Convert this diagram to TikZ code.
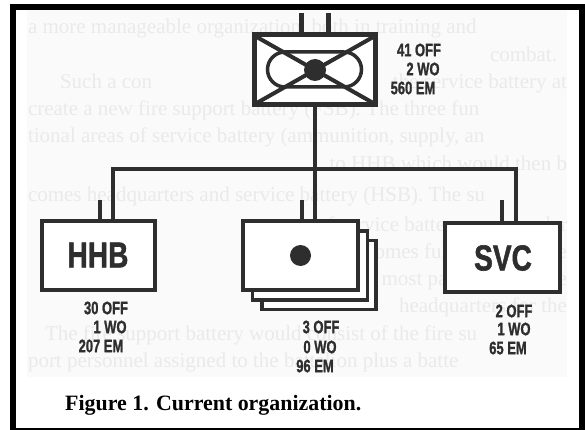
\documentclass[tikz,border=0pt]{standalone}
\usepackage{graphicx}
\usepackage{fontspec}
\setmainfont{Liberation Serif}
\newfontfamily\labelfont{Liberation Sans}[BoldFeatures={FakeBold=1.6}]
\definecolor{ink}{HTML}{2E2E2E}
\definecolor{ghost}{HTML}{EAEAEA}
\definecolor{paper}{HTML}{FAFAFA}
\newcommand{\unitname}[1]{\scalebox{0.78}[1]{\labelfont\fontsize{36}{36}\selectfont\bfseries #1}}
\newcommand{\tally}[1]{\scalebox{0.72}[1]{\labelfont\fontsize{18}{18}\selectfont\bfseries #1}}
\newcommand{\faint}[1]{{\fontsize{21}{21}\selectfont #1}}
\tikzset{
  unitbox/.style={draw=ink,line width=4pt,fill=white,inner sep=0pt,outer sep=0pt,minimum width=#1,minimum height=69pt},
  link/.style={draw=ink,line width=4pt},
  inkline/.style={draw=ink,line width=4pt},
  count/.style={inner sep=0pt,outer sep=0pt,text=ink,anchor=center},
  bleed/.style={inner sep=0pt,outer sep=0pt,text=ghost,anchor=base west},
  bleedr/.style={inner sep=0pt,outer sep=0pt,text=ghost,anchor=base east}
}
\begin{document}
\begin{tikzpicture}[x=1pt,y=-1pt]
\useasboundingbox (0,0) rectangle (585,430);
\fill[white] (0,0) rectangle (585,430);
\fill[black] (10,4) rectangle (585,430);
\fill[white] (16,10) rectangle (579,428);
\fill[paper] (27,10) rectangle (567,377);
\begin{scope}
\clip (27,10) rectangle (567,377);
\node[bleed] (g1) at (28,34) {\faint{a more manageable organization, both in training and}};
\node[bleed] (g2) at (490,62) {\faint{combat.}};
\node[bleed] (g3a) at (60,89) {\faint{Such a con}};
\node[bleedr] (g3b) at (567,89) {\faint{the service battery at}};
\node[bleed] (g4) at (28,116) {\faint{create a new fire support battery (FSB). The three fun}};
\node[bleed] (g5) at (28,143) {\faint{tional areas of service battery (ammunition, supply, an}};
\node[bleedr] (g6) at (567,171) {\faint{to HHB which would then b}};
\node[bleed] (g7) at (28,201) {\faint{comes headquarters and service battery (HSB). The su}};
\node[bleedr] (g8) at (567,231) {\faint{of service battery commander}};
\node[bleedr] (g9) at (567,258) {\faint{becomes full time 24. The}};
\node[bleedr] (g10) at (567,285) {\faint{would, for the most part, become the}};
\node[bleedr] (g11) at (567,312) {\faint{headquarters for the}};
\node[bleed] (g12) at (45,340) {\faint{The fire support battery would consist of the fire su}};
\node[bleed] (g13) at (28,367) {\faint{port personnel assigned to the battalion plus a batte}};
\end{scope}

\node[unitbox=121pt,line width=5pt,minimum height=70pt] (hq) at (315,70) {};
\node[unitbox=113pt] (hhb) at (98.5,255.5) {};
\node[unitbox=115pt] (svc) at (502.5,257) {};
\coordinate (busc) at (314.5,169);
\coordinate (busl) at (113,169);
\coordinate (busr) at (516,169);
\coordinate (a1) at (301,13);
\coordinate (a2) at (328,13);
\coordinate (s1) at (100,200);
\coordinate (s2) at (302,200);
\coordinate (s3) at (502,200);
\coordinate (mt) at (314.5,221);
\path[link] (hq.south -| busc) -- (mt);
\path[link] (hhb.north -| busl) -- (busl) -- (busr) -- (svc.north -| busr);
\path[link,line width=5pt] (a1) -- (a1 |- hq.north);
\path[link,line width=5pt] (a2) -- (a2 |- hq.north);
\path[link] (s1) -- (s1 |- hhb.north);
\path[link] (s2) -- (s2 |- mt);
\path[link] (s3) -- (s3 |- svc.north);

\begin{scope}
\clip (255,36) rectangle (375,104);
\path[inkline] (255,36) -- (375,104);
\path[inkline] (375,36) -- (255,104);
\end{scope}
\path[inkline,line width=3.5pt] (285,52) -- (344,52) arc[start angle=90,end angle=-90,radius=17.5pt] -- (285,87) arc[start angle=-90,end angle=-270,radius=17.5pt] -- cycle;
\fill[ink] (315,70) circle[radius=11pt];

\node[unitbox=114pt,line width=3.5pt] (c3) at (319,275) {};
\node[unitbox=115pt,line width=3.5pt] (c2) at (310,265.5) {};
\node[unitbox=115pt] (c1) at (300.5,255.5) {};
\fill[ink] (c1.center) circle[radius=10.5pt];

\node[inner sep=0pt,text=ink] (thhb) at (98,255) {\unitname{HHB}};
\node[inner sep=0pt,text=ink] (tsvc) at (503,258) {\unitname{SVC}};

\node[count] (n1) at (419,50) {\tally{41 OFF}};
\node[count] (n2) at (423,69) {\tally{2 WO}};
\node[count] (n3) at (413,88) {\tally{560 EM}};
\node[count] (h1) at (106,308) {\tally{30 OFF}};
\node[count] (h2) at (110,327) {\tally{1 WO}};
\node[count] (h3) at (101,346) {\tally{207 EM}};
\node[count] (b1) at (321,327) {\tally{3 OFF}};
\node[count] (b2) at (320,347) {\tally{0 WO}};
\node[count] (b3) at (315,366) {\tally{96 EM}};
\node[count] (v1) at (514,311) {\tally{2 OFF}};
\node[count] (v2) at (514,329) {\tally{1 WO}};
\node[count] (v3) at (508,348) {\tally{65 EM}};

\node[inner sep=0pt,anchor=base west] (cap) at (65,410) {\fontsize{21.9}{22}\selectfont\bfseries Figure 1. Current organization.};
\end{tikzpicture}
\end{document}
